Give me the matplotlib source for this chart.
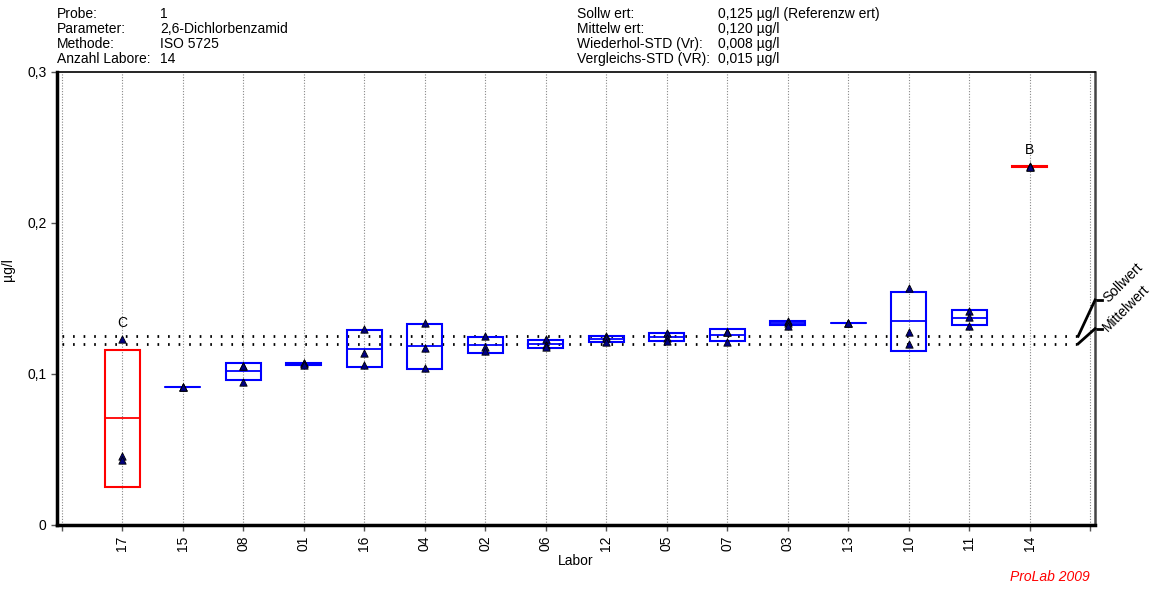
import numpy as np
import matplotlib
matplotlib.use("Agg")
import matplotlib.pyplot as plt
from matplotlib.patches import Rectangle

plt.rcParams['font.family'] = ['Liberation Sans', 'DejaVu Sans']

# -------data-------
labs = ["17", "15", "08", "01", "16", "04", "02", "06", "12", "05", "07", "03", "13", "10", "11", "14"]
values = [
    [0.123, 0.046, 0.043],
    [0.0914, 0.0914, 0.0914],
    [0.105, 0.105, 0.095],
    [0.107, 0.107, 0.106],
    [0.130, 0.114, 0.106],
    [0.134, 0.117, 0.104],
    [0.125, 0.118, 0.115],
    [0.123, 0.119, 0.118],
    [0.125, 0.124, 0.121],
    [0.127, 0.124, 0.122],
    [0.128, 0.128, 0.121],
    [0.135, 0.134, 0.132],
    [0.134, 0.134, 0.134],
    [0.157, 0.128, 0.120],
    [0.142, 0.138, 0.132],
    [0.238, 0.237, 0.237],
]
flags = {"17": "C", "14": "B"}
sollwert = 0.125
mittelwert = 0.120

header_left = [("Probe:", "1"), ("Parameter:", "2,6-Dichlorbenzamid"),
               ("Methode:", "ISO 5725"), ("Anzahl Labore:", "14")]
header_right = [("Sollw ert:", "0,125 µg/l (Referenzw ert)"), ("Mittelw ert:", "0,120 µg/l"),
                ("Wiederhol-STD (Vr):", "0,008 µg/l"), ("Vergleichs-STD (VR):", "0,015 µg/l")]

# --------plotting-------
fig = plt.figure(figsize=(11.63, 5.93), dpi=100)
ax = fig.add_axes([0.049, 0.1147, 0.8926, 0.7639])

xpos = np.arange(1, len(labs) + 1)
ax.set_xlim(-0.08, 17.08)
ax.set_ylim(0, 0.3)

# vertical grid
for xv in range(0, 18):
    ax.axvline(xv, color="#888888", ls=(0, (1, 1.5)), lw=0.8, zorder=0)

# reference lines
ax.plot([0, 16.8], [sollwert, sollwert], color="k", lw=2, ls=(0, (0.6, 3.2)), zorder=1)
ax.plot([0, 16.8], [mittelwert, mittelwert], color="k", lw=2, ls=(0, (0.6, 3.2)), zorder=1)

w = 0.58
for i, (lab, v) in enumerate(zip(labs, values)):
    v = np.array(v)
    m = v.mean()
    s = v.std(ddof=1)
    col = "#ff0000" if lab in flags else "#0000ff"
    x = xpos[i]
    ax.add_patch(Rectangle((x - w / 2, m - s), w, 2 * s, fill=False, edgecolor=col, lw=1.5, zorder=3))
    ax.plot([x - w / 2, x + w / 2], [m, m], color=col, lw=1.3, zorder=3)
    ax.scatter([x] * len(v), v, marker="^", s=28, color="#000080", edgecolors="k", linewidths=0.6, zorder=4)
    if lab in flags:
        ax.text(x, v.max() + 0.006, flags[lab], ha="center", va="bottom", fontsize=10)

ax.set_xticks(range(0, 18))
ax.set_xticklabels([""] + labs + [""], rotation=90, fontsize=10)
ax.set_yticks([0, 0.1, 0.2, 0.3])
ax.set_yticklabels(["0", "0,1", "0,2", "0,3"], fontsize=10)
ax.tick_params(axis="both", direction="out", length=4, width=1, color="#555555")
ax.set_xlabel("Labor", fontsize=10, labelpad=2)
ax.set_ylabel("µg/l", fontsize=10)
ax.yaxis.set_label_coords(-0.040, 0.563)

ax.spines["left"].set_linewidth(2.5)
ax.spines["bottom"].set_linewidth(2.5)
ax.spines["top"].set_linewidth(1.2)
ax.spines["right"].set_linewidth(1.8)
ax.spines["right"].set_color("#444444")

# Sollwert / Mittelwert markers at right
ax.plot([16.8, 17.08], [sollwert, 0.149], color="k", lw=2, clip_on=False, zorder=5)
ax.plot([16.8, 17.08], [mittelwert, 0.130], color="k", lw=2, clip_on=False, zorder=5)
ax.plot([17.08, 17.2], [0.149, 0.149], color="k", lw=2, clip_on=False)
ax.plot([17.08, 17.2], [0.130, 0.130], color="k", lw=2, clip_on=False)
ax.text(17.25, 0.149, "Sollwert", rotation=45, rotation_mode="anchor", ha="left", va="center", fontsize=10)
ax.text(17.25, 0.130, "Mittelwert", rotation=45, rotation_mode="anchor", ha="left", va="center", fontsize=10)

# header texts
ys = [0.9696, 0.9443, 0.9190, 0.8938]
for (k, val), y in zip(header_left, ys):
    fig.text(57 / 1163, y, k, fontsize=10, va="baseline")
    fig.text(160 / 1163, y, val, fontsize=10, va="baseline")
for (k, val), y in zip(header_right, ys):
    fig.text(577 / 1163, y, k, fontsize=10, va="baseline")
    fig.text(718 / 1163, y, val, fontsize=10, va="baseline")

fig.text(1090 / 1163, 0.02, "ProLab 2009", color="red", style="italic", fontsize=10, ha="right")

plt.savefig("out.png", dpi=100)
